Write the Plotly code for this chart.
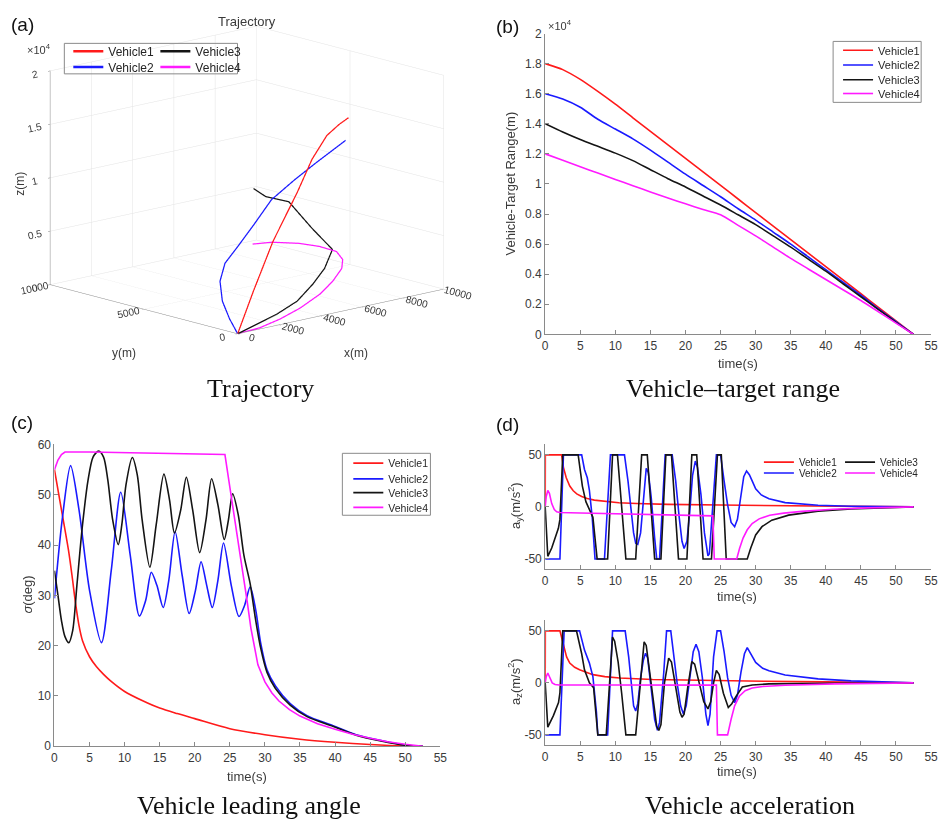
import plotly.graph_objects as go

W, H = 944, 828
def PX(x): return x / W
def PY(y): return 1 - y / H

vehicle_names = ["Vehicle1", "Vehicle2", "Vehicle3", "Vehicle4"]
vehicle_colors = ["#ff1a1a", "#1a1aff", "#141414", "#ff1aff"]

# ---------------- (a) 3-D trajectories (m) ----------------
traj_v1_x = [10000, 9300, 8500, 7400, 6000, 3800, 1800, 0]
traj_v1_y = [5080, 4830, 4590, 4170, 3410, 2300, 1140, 0]
traj_v1_z = [13710, 13460, 12890, 11320, 9190, 5980, 2710, 0]

traj_v2_x = [9510, 8080, 6850, 5710, 4660, 3710, 2850, 2090, 1330, 670, 0]
traj_v2_y = [4700, 4660, 4510, 4480, 4220, 4070, 3810, 3240, 2280, 1170, 0]
traj_v2_z = [11960, 10540, 9450, 8090, 6420, 4750, 3660, 2560, 1460, 580, 0]

traj_v3_x = [9000, 8550, 8100, 7380, 6480, 5400, 4320, 3060, 2000, 1000, 0]
traj_v3_y = [9050, 7900, 6180, 4140, 2070, 1300, 740, 190, 90, 40, 0]
traj_v3_z = [5670, 5630, 6130, 4860, 4230, 3270, 2500, 1690, 980, 490, 0]

traj_v4_x = [8500, 8075, 7480, 6800, 6120, 5530, 5050, 4700, 4100, 3100, 2100, 1120, 0]
traj_v4_y = [8550, 7060, 4950, 3120, 1460, 480, 0, 100, 120, 80, 40, 50, 0]
traj_v4_z = [910, 1950, 3060, 3900, 4470, 4420, 4000, 2900, 1940, 1070, 490, 70, 0]

# ---------------- (b) vehicle-target range (m) ----------------
t_range = [0, 2.5, 5, 7.5, 10, 12.5, 15, 17.5, 20, 22.5, 25, 27.5, 30, 32.5,
           35, 37.5, 40, 42.5, 45, 47.5, 50, 52.5]
range_v1 = [18000, 17600, 16950, 16150, 15300, 14400, 13500, 12600, 11700, 10800, 9900,
            9000, 8100, 7200, 6300, 5400, 4500, 3600, 2700, 1800, 900, 0]
range_v2 = [16000, 15650, 15100, 14300, 13650, 13000, 12250, 11450, 10650, 9900, 9150,
            8350, 7600, 6800, 6000, 5150, 4300, 3450, 2600, 1700, 850, 0]
range_v3 = [14000, 13450, 12950, 12500, 12050, 11550, 10950, 10350, 9800, 9200, 8600,
            7950, 7300, 6550, 5800, 5000, 4200, 3350, 2500, 1650, 800, 0]
range_v4 = [12000, 11580, 11150, 10720, 10300, 9880, 9470, 9070, 8680, 8300, 7950,
            7250, 6550, 5800, 5050, 4350, 3650, 2950, 2250, 1500, 750, 0]

# ---------------- (c) leading angle (deg) ----------------
angle_v1_t = [0, 1, 2, 2.5, 3, 3.5, 4, 5, 6, 7, 8, 10, 12.5, 15, 17.5, 20, 25, 30, 35, 40, 45, 50, 52.5]
angle_v1 = [55, 47, 39, 34, 28.5, 24, 21, 17.8, 15.8, 14.3, 13, 10.9, 9.1, 7.6, 6.5, 5.5, 3.5,
            2.3, 1.4, 0.8, 0.35, 0.05, 0]
angle_v2_t = [0, 1.1, 2.3, 3.5, 5, 6.7, 8.1, 9.45, 10.8, 12.1, 13, 13.8, 14.6, 15.5, 16.3,
              17.2, 18.2, 19.2, 20.1, 20.9, 21.7, 22.5, 23.3, 24.1, 25.2, 26.3, 27.1, 27.9,
              28.7, 29.4, 30.3, 31.5, 33.6, 36, 39.7, 43, 46.7, 50, 52.5]
angle_v2 = [29.4, 45, 55.8, 47, 31, 20.6, 35, 50.5, 38, 25.9, 29, 34.6, 32, 27.6, 33,
            42.7, 34, 26.4, 31, 36.7, 32, 27.6, 33, 40.4, 32, 25.8, 28, 31.7,
            27, 20.5, 15.2, 12, 8.5, 6.1, 4.1, 2.3, 1.1, 0.25, 0]
angle_v3_t = [0, 0.5, 1, 1.5, 2.05, 2.6, 3.2, 4, 4.8, 5.5, 6.3, 7, 7.6, 8.3, 9.1, 9.6,
              10.2, 11.1, 11.8, 12.5, 13.6, 14.5, 15.6, 16.4, 17.1, 18, 18.8, 19.7, 20.7,
              21.6, 22.4, 23.3, 24.2, 24.8, 25.4, 26.2, 27, 27.9, 28.6, 29.4, 30.3, 31.5,
              33.6, 36, 39.7, 43, 46.7, 50, 52.5]
angle_v3 = [34.9, 30, 25, 21.8, 20.6, 23, 32, 44, 53, 57.5, 58.7, 57.5, 53, 45, 40.1, 44,
            52, 57.4, 54, 45, 35.6, 44, 54.1, 49, 42.4, 47, 53.5, 47, 38.5,
            45, 53.2, 48, 41.1, 45, 50.2, 46, 38, 32.3, 25.8, 19.5, 14.7, 11.5,
            8.2, 5.9, 3.97, 2.2, 1.0, 0.2, 0]
angle_v4_t = [0, 0.5, 1, 1.5, 5, 10, 15, 20, 24.3, 25, 26, 27, 27.5, 28, 28.5, 29, 30, 31,
              32, 33.5, 35, 37.5, 40, 42.5, 45, 47.5, 50, 52.5]
angle_v4 = [55, 56.9, 58, 58.5, 58.5, 58.4, 58.3, 58.2, 58.0, 51.5, 42.5, 33.5, 28.5, 23.5,
            19.5, 16.2, 12.8, 10.6, 9.0, 7.3, 6.0, 4.5, 3.4, 2.4, 1.6, 0.9, 0.4, 0]

# ---------------- (d) accelerations (m/s^2) ----------------
ay_v1_t = [0, 0.02, 2.34, 2.6, 3.0, 3.5, 4.0, 4.5, 5.2, 6, 7, 8.5, 10.5, 13, 17.5, 25, 32, 40, 52.5]
ay_v1 = [0, 50, 50, 38, 28, 20, 15.5, 12.5, 10, 8, 6.5, 5.2, 4, 3.2, 2.4, 1.8, 1.3, 0.8, 0]
ay_v2_t = [0, 2.1, 2.6, 5.2, 5.6, 6.0, 6.3, 6.7, 7.1, 8.45, 9.3, 11.3, 11.8, 12.2, 12.6, 12.9,
           13.2, 13.6, 14.0, 14.4, 14.7, 15.1, 15.6, 15.9, 16.3, 17.1, 18.1, 18.6, 19.1,
           19.5, 19.8, 20.2, 20.6, 21.0, 21.4, 21.7, 22.2, 22.7, 23.2, 23.4, 24.4, 25.0,
           25.5, 26.0, 26.5, 27.0, 27.4, 27.9, 28.3, 28.7, 29.1, 29.5, 30, 30.8, 31.9,
           34.2, 38.9, 43.6, 52.5]
ay_v2 = [-50, -50, 50, 50, 36, 28, 16, -10, -50, -50, 50, 50, 25, 0, -25, -35,
         -36, -25, 5, 37, 33, 10, -30, -50, -50, 50, 50, 25, -10,
         -33, -40, -33, -5, 30, 44, 38, 12, -25, -47, -45, 50, 50,
         25, 2, -15, -19, -12, 10, 29, 34.5, 31, 25, 17.4, 11.5, 7.9,
         4.1, 1.6, 0.6, 0]
ay_v3_t = [0, 0.37, 0.93, 1.4, 1.88, 2.1, 2.5, 4.7, 5.3, 5.8, 6.3, 6.8, 7.4, 8.9, 9.6, 10.3,
           11.5, 12.9, 13.75, 14.55, 15.6, 16.5, 17.2, 18.0, 19.0, 20.2, 20.9, 21.6, 22.5,
           23.7, 24.55, 25.1, 25.8, 28.8, 29.3, 30.0, 30.9, 32.3, 34.7, 38.9, 43.6, 48.3, 52.5]
ay_v3 = [0, -47.5, -39.5, -30, -20.6, -12, 50, 50, 20, 5, -2, -10, -50, -50, 50, 50,
         -50, -50, 50, 50, -50, -50, 50, 50, -50, -50, 50, 50, -50,
         -50, 50, 50, -50, -50, -39.5, -27, -19, -12.7, -7.9, -4.1, -1.9, -0.9, 0]
ay_v4_t = [0, 0.15, 0.37, 0.6, 0.93, 1.3, 1.64, 2.1, 5, 10, 15, 20, 23.9, 24.1, 27.3, 27.7,
           28.2, 28.8, 29.5, 30.5, 32, 34, 36.6, 41, 46, 52.5]
ay_v4 = [0, 10, 15.8, 13, 3.2, -2.5, -4.7, -5.4, -5.8, -6.5, -7.2, -8.0, -8.6, -50, -50, -40,
         -30, -22, -16, -11.5, -8, -6, -4.3, -2.3, -0.9, 0]

az_v1_t = [0, 0.02, 2.1, 2.4, 2.6, 3.05, 3.5, 4.2, 4.9, 5.8, 6.8, 8.5, 10.6, 15.3, 22.3, 31.2, 40, 52.5]
az_v1 = [0, 50, 50, 42, 34.7, 25, 19, 15, 12.6, 10, 7.9, 6, 4.7, 3.2, 2.2, 1.6, 1.0, 0]
az_v2_t = [0, 2.1, 2.7, 4.9, 5.6, 6.3, 6.8, 7.3, 7.5, 8.9, 9.6, 11.4, 11.9, 12.3, 12.6, 12.9,
           13.2, 13.6, 14.0, 14.3, 14.6, 15.1, 15.6, 16.0, 16.3, 16.9, 17.3, 17.9, 18.3,
           18.8, 19.3, 19.7, 20.1, 20.6, 21.1, 21.5, 21.9, 22.4, 22.9, 23.2, 23.5, 24.0,
           24.5, 25.0, 25.5, 26.0, 26.5, 27.0, 27.4, 27.9, 28.4, 28.8, 29.3, 30, 31,
           31.9, 34.2, 38.9, 43.6, 48.3, 52.5]
az_v2 = [-50, -50, 50, 50, 31.5, 19, 6, -28, -50, -50, 50, 50, 25, -5, -22, -27,
         -20, 5, 22, 28.4, 24, -5, -35, -45.7, -38, 10, 50, 50, 25,
         0, -22, -30, -22, 5, 30, 37.2, 30, 5, -30, -41, -30, 25,
         50, 50, 30, 5, -12, -19, -12, 10, 28, 33.8, 28, 19.6, 14,
         11.7, 7.6, 3.8, 1.9, 0.6, 0]
az_v3_t = [0, 0.37, 1.17, 1.9, 2.1, 2.5, 4.46, 5.2, 5.6, 6.3, 6.9, 7.5, 8.7, 9.0, 9.3, 9.6,
           9.9, 10.4, 10.9, 11.5, 12.9, 13.3, 13.7, 14.1, 14.4, 14.9, 15.5, 15.9, 16.2, 16.5,
           17.0, 17.6, 18.0, 18.6, 19.2, 19.5, 19.8, 20.3, 20.9, 21.3, 22.0, 22.6, 23.2,
           23.6, 24.0, 24.4, 24.8, 25.4, 26.1, 26.6, 27.2, 28.1, 29.5, 31.9, 40, 52.5]
az_v3 = [0, -42.6, -31.5, -19, -9.5, 50, 50, 28, 12.6, 0, -4.7, -50, -50, -20, 20, 44,
         40, 20, -10, -50, -50, -20, 15, 39.4, 36, 10, -25, -42, -45.7, -40,
         0, 23.7, 20, -5, -28, -33, -30, -5, 20.5, 18, 0, -18, -25,
         -18, 0, 12, 8, -10, -23.7, -20, -13, -4, -2, -1, -0.3, 0]
az_v4_t = [0, 0.15, 0.37, 0.7, 1.0, 1.4, 2, 10, 20, 24.4, 24.55, 26.0, 26.5, 27.0, 27.7,
           28.5, 29.5, 31, 34.2, 41.3, 52.5]
az_v4 = [0, 6, 9.5, 5, 0, -1.6, -2.0, -2.0, -2.1, -2.2, -50, -50, -35, -22, -12.6,
         -7.5, -5, -3.5, -2.3, -1, 0]

# ---------------- axis ticks ----------------
time_ticks = [0, 5, 10, 15, 20, 25, 30, 35, 40, 45, 50, 55]
range_tickvals = [0, 2000, 4000, 6000, 8000, 10000, 12000, 14000, 16000, 18000, 20000]
range_ticktext = ["0", "0.2", "0.4", "0.6", "0.8", "1", "1.2", "1.4", "1.6", "1.8", "2"]
angle_ticks = [0, 10, 20, 30, 40, 50, 60]
acc_ticks = [-50, 0, 50]
x3_ticks = [0, 2000, 4000, 6000, 8000, 10000]
y3_ticks = [0, 5000, 10000]
z3_tickvals = [0, 5000, 10000, 15000, 20000]
z3_ticktext = ["0", "0.5", "1", "1.5", "2"]

FONT = "Liberation Sans, Arial, sans-serif"
SERIF = "Liberation Serif, Times New Roman, serif"
AX = "#8a8a8a"
TXT = "#3a3a3a"

fig = go.Figure()

def legend_key(n):
    return "legend" if n == 1 else "legend%d" % n

# legend slots per panel and vehicle: (legend number, x of line start, y centre, font size)
legend_slots = {
    "a": [(1, 65, 44, 12), (3, 65, 60, 12), (2, 153, 44, 12), (4, 153, 60, 12)],
    "b": [(5, 843, 43, 11), (6, 843, 58, 11), (7, 843, 73, 11), (8, 843, 87, 11)],
    "c": [(9, 348, 463, 10.5), (10, 348, 479, 10.5), (11, 348, 493, 10.5), (12, 348, 508, 10.5)],
    "d": [(13, 763, 462, 10), (14, 763, 473, 10), (15, 845, 462, 10), (16, 845, 473, 10)],
}
legend_dy = {"a": 1, "b": 1, "c": 1, "d": 1}
legend_layouts = {}
def new_legend(panel, i):
    n, x, y, fs = legend_slots[panel][i]
    legend_layouts[legend_key(n)] = dict(
        x=PX(x + 1), y=PY(y + legend_dy[panel]), xanchor="left", yanchor="middle",
        bgcolor="rgba(0,0,0,0)", borderwidth=0, font=dict(family=FONT, size=fs, color="#262626"),
        itemwidth=30, tracegroupgap=0)
    return legend_key(n)

# (a)
traj = [(traj_v1_x, traj_v1_y, traj_v1_z), (traj_v2_x, traj_v2_y, traj_v2_z),
        (traj_v3_x, traj_v3_y, traj_v3_z), (traj_v4_x, traj_v4_y, traj_v4_z)]
for i, (xs, ys, zs) in enumerate(traj):
    fig.add_trace(go.Scatter3d(x=xs, y=ys, z=zs, mode="lines", name=vehicle_names[i],
                               line=dict(color=vehicle_colors[i], width=2.5),
                               legend=new_legend("a", i), scene="scene"))
# (b)
for i, vals in enumerate([range_v1, range_v2, range_v3, range_v4]):
    fig.add_trace(go.Scatter(x=t_range, y=vals, mode="lines", name=vehicle_names[i],
                             line=dict(color=vehicle_colors[i], width=1.6, shape="spline", smoothing=0.6),
                             xaxis="x", yaxis="y", legend=new_legend("b", i)))
# (c)
angle_data = [(angle_v1_t, angle_v1, "spline"), (angle_v2_t, angle_v2, "spline"),
              (angle_v3_t, angle_v3, "spline"), (angle_v4_t, angle_v4, "linear")]
for i, (ts, vals, shp) in enumerate(angle_data):
    fig.add_trace(go.Scatter(x=ts, y=vals, mode="lines", name=vehicle_names[i],
                             line=dict(color=vehicle_colors[i], width=1.6, shape=shp, smoothing=0.8),
                             xaxis="x2", yaxis="y2", legend=new_legend("c", i)))
# (d) top
for i, (ts, vals) in enumerate([(ay_v1_t, ay_v1), (ay_v2_t, ay_v2), (ay_v3_t, ay_v3), (ay_v4_t, ay_v4)]):
    fig.add_trace(go.Scatter(x=ts, y=vals, mode="lines", name=vehicle_names[i],
                             line=dict(color=vehicle_colors[i], width=1.6),
                             xaxis="x3", yaxis="y3", legend=new_legend("d", i)))
# (d) bottom
for i, (ts, vals) in enumerate([(az_v1_t, az_v1), (az_v2_t, az_v2), (az_v3_t, az_v3), (az_v4_t, az_v4)]):
    fig.add_trace(go.Scatter(x=ts, y=vals, mode="lines", name=vehicle_names[i],
                             line=dict(color=vehicle_colors[i], width=1.6),
                             xaxis="x4", yaxis="y4", showlegend=False))

def xax(d0, d1, anchor):
    return dict(domain=[PX(d0), PX(d1)], range=[0, 55], tickvals=time_ticks, anchor=anchor,
                showline=True, linecolor=AX, linewidth=1, ticks="inside", ticklen=4,
                tickcolor=AX, showgrid=False, zeroline=False,
                tickfont=dict(family=FONT, size=12, color=TXT))
def yax(top, bottom, rng, tv, tt, anchor):
    return dict(domain=[PY(bottom), PY(top)], range=rng, tickvals=tv, ticktext=tt, anchor=anchor,
                showline=True, linecolor=AX, linewidth=1, ticks="inside", ticklen=4,
                tickcolor=AX, showgrid=False, zeroline=False,
                tickfont=dict(family=FONT, size=12, color=TXT))

scene_axis = dict(showbackground=False, gridcolor="#e3e3e3", gridwidth=1, showline=True,
                  linecolor=AX, linewidth=1, ticks="outside", tickcolor=AX, ticklen=3,
                  zeroline=False, showspikes=False, title=dict(text=""),
                  tickfont=dict(family=FONT, size=11, color=TXT))

ASP = 1.72
fig.update_layout(
    width=W, height=H, margin=dict(l=0, r=0, t=0, b=0),
    paper_bgcolor="white", plot_bgcolor="white",
    font=dict(family=FONT, color=TXT),
    xaxis=xax(548, 938, "y"),
    yaxis=yax(27, 333, [0, 20000], range_tickvals, range_ticktext, "x"),
    xaxis2=xax(52, 442, "y2"),
    yaxis2=yax(445, 752, [0, 60], angle_ticks, [str(v) for v in angle_ticks], "x2"),
    xaxis3=xax(548, 938, "y3"),
    yaxis3=yax(445, 572, [-60, 60], acc_ticks, [str(v) for v in acc_ticks], "x3"),
    xaxis4=xax(548, 938, "y4"),
    yaxis4=yax(624, 751, [-60, 60], acc_ticks, [str(v) for v in acc_ticks], "x4"),
    scene=dict(
        domain=dict(x=[PX(0), PX(493)], y=[PY(341), PY(11)]),
        xaxis=dict(scene_axis, range=[0, 10000], tickvals=x3_ticks,
                   ticktext=[str(v) for v in x3_ticks]),
        yaxis=dict(scene_axis, range=[0, 10000], tickvals=y3_ticks,
                   ticktext=[str(v) for v in y3_ticks]),
        zaxis=dict(scene_axis, range=[0, 20000], tickvals=z3_tickvals, ticktext=z3_ticktext),
        aspectmode="manual", aspectratio=dict(x=ASP, y=ASP, z=0.79 * ASP),
        camera=dict(eye=dict(x=-0.653 * 1.6, y=-0.718 * 1.6, z=0.238 * 1.6),
                    up=dict(x=0, y=0, z=1), center=dict(x=0, y=0, z=0),
                    projection=dict(type="orthographic")),
    ),
    **legend_layouts,
)

shapes = []
for (x0, y0, x1, y1) in [(62, 37, 237, 68), (839, 35, 928, 97), (343, 454, 432, 517)]:
    shapes.append(dict(type="rect", xref="paper", yref="paper", x0=PX(x0), x1=PX(x1),
                       y0=PY(y1), y1=PY(y0), line=dict(color="#8a8a8a", width=1)))
fig.update_layout(shapes=shapes)

ann = []
def A(text, x, y, size, family=FONT, angle=0, xanchor="center", color=TXT):
    ann.append(dict(text=text, x=PX(x), y=PY(y), xref="paper", yref="paper", showarrow=False,
                    xanchor=xanchor, yanchor="middle", textangle=angle,
                    font=dict(family=family, size=size, color=color)))

A("(a)", 20, 18, 19, color="#111")
A("(b)", 510, 20, 19, color="#111")
A("(c)", 19, 423, 19, color="#111")
A("(d)", 510, 425, 19, color="#111")
A("Trajectory", 247, 15, 13)
A("×10<sup>4</sup>", 22, 43, 11, xanchor="left")
A("×10<sup>4</sup>", 549, 18, 11, xanchor="left")
A("x(m)", 357, 352, 12)
A("y(m)", 122, 352, 12)
A("z(m)", 17, 180, 12, angle=-90)
A("Vehicle-Target Range(m)", 513, 180, 13, angle=-90)
A("time(s)", 743, 363, 13)
A("<i>σ</i>(deg)", 25, 598, 13, angle=-90)
A("time(s)", 247, 783, 13)
A("a<sub>y</sub>(m/s<sup>2</sup>)", 518, 508, 13, angle=-90)
A("time(s)", 742, 600, 13)
A("a<sub>z</sub>(m/s<sup>2</sup>)", 518, 687, 13, angle=-90)
A("time(s)", 742, 778, 13)
A("Trajectory", 260, 388, 26, family=SERIF, color="#111")
A("Vehicle–target range", 738, 388, 26, family=SERIF, color="#111")
A("Vehicle leading angle", 249, 812, 26, family=SERIF, color="#111")
A("Vehicle acceleration", 755, 812, 26, family=SERIF, color="#111")
fig.update_layout(annotations=ann)

fig.write_html("out.html", config={"displayModeBar": False},
               post_script="document.body.style.margin='0px';document.body.style.overflow='hidden';")
